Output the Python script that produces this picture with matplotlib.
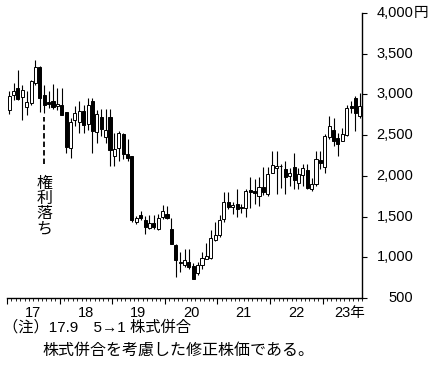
import matplotlib
matplotlib.use('Agg')
import matplotlib.pyplot as plt
import numpy as np

plt.rcParams['font.family'] = ['Liberation Sans', 'Noto Sans CJK JP']

# monthly candles, Jan 2017 - Sep 2023 (adjusted for the 17.9 5->1 consolidation)
opens = [2813, 2996, 3085, 2967, 2845, 2894, 3138, 3341, 2996, 2906, 2914, 2853,
         2874, 2780, 2337, 2683, 2662, 2792, 2638, 2914, 2540, 2719, 2479, 2719,
         2240, 2345, 2508, 2264, 2244, 1439, 1521, 1452, 1362, 1423, 1350, 1492,
         1533, 1342, 1147, 931, 902, 947, 893, 801, 911, 984, 996, 1215,
         1268, 1472, 1683, 1614, 1655, 1622, 1602, 1825, 1817, 1748, 1866, 1777,
         2041, 2094, 2118, 2082, 1999, 2109, 1918, 2008, 2073, 1837, 1898, 2195,
         2113, 2479, 2569, 2467, 2434, 2499, 2861, 2955, 2739]
highs = [3048, 3138, 3300, 3118, 3036, 3178, 3422, 3353, 3118, 3036, 3130, 3077,
         3077, 2780, 2711, 2853, 2914, 2874, 2955, 2955, 2813, 2825, 2825, 2825,
         2528, 2548, 2528, 2447, 2250, 1512, 1565, 1512, 1521, 1521, 1533, 1647,
         1634, 1484, 1159, 1065, 1106, 1106, 930, 943, 1065, 1175, 1340, 1430,
         1520, 1805, 1797, 1683, 1838, 1650, 1838, 1980, 1960, 1980, 2110, 2110,
         2305, 2305, 2150, 2183, 2101, 2284, 2101, 2142, 2142, 1979, 2304, 2304,
         2508, 2731, 2711, 2528, 2589, 2873, 2914, 2975, 3016]
lows = [2764, 2935, 2935, 2691, 2752, 2874, 3118, 2780, 2772, 2833, 2825, 2813,
        2752, 2284, 2223, 2609, 2528, 2528, 2569, 2284, 2406, 2487, 2406, 2122,
        2122, 2183, 2203, 2183, 1439, 1411, 1452, 1289, 1350, 1350, 1330, 1472,
        1472, 1159, 760, 821, 882, 862, 736, 781, 862, 984, 984, 1200,
        1250, 1431, 1594, 1533, 1492, 1540, 1492, 1602, 1650, 1634, 1760, 1756,
        2030, 1777, 1850, 1777, 1877, 1837, 1837, 1877, 1837, 1817, 1877, 2081,
        2040, 2447, 2365, 2243, 2426, 2487, 2772, 2548, 2711]
closes = [2983, 3044, 2943, 3056, 2902, 3166, 3341, 2955, 2874, 2886, 2841, 2882,
          2752, 2357, 2658, 2772, 2792, 2630, 2874, 2557, 2764, 2577, 2569, 2313,
          2333, 2528, 2264, 2215, 1460, 1484, 1480, 1370, 1423, 1370, 1484, 1573,
          1484, 1167, 964, 943, 968, 878, 736, 911, 988, 1012, 1240, 1268,
          1455, 1683, 1614, 1647, 1594, 1602, 1817, 1797, 1785, 1858, 1797, 2021,
          2130, 2122, 2126, 1980, 2032, 1951, 2020, 2101, 1857, 1898, 2203, 2154,
          2487, 2609, 2434, 2386, 2508, 2833, 2833, 2772, 2853]

years = ['17', '18', '19', '20', '21', '22', '23']
yticks = [500, 1000, 1500, 2000, 2500, 3000, 3500, 4000]
split_month = 8   # 2017年9月

o = np.array(opens)
h = np.array(highs)
l = np.array(lows)
c = np.array(closes)
x = np.arange(len(o))

fig = plt.figure(figsize=(4.32, 3.65), dpi=100)
ax = fig.add_axes([7/432, 67/365, 355/432, 285/365])

# wicks
ax.vlines(x, l, h, color='black', lw=0.8, zorder=1)
# bodies
up = c >= o
bottom = np.minimum(o, c)
height = np.maximum(np.abs(c - o), 4)
ax.bar(x, height, bottom=bottom, width=0.7,
       color=np.where(up, 'white', 'black'), edgecolor='black', lw=0.7, zorder=2)

# 権利落ち marker
ax.vlines(split_month, 2146, 2719, colors='black', lw=1.3,
          linestyles=(0, (3, 1.7)), zorder=3)
ax.text(split_month, 1625, '\n'.join('権利落ち'), ha='center', va='center',
        fontsize=11.5, linespacing=1.0)

ax.set_xlim(-0.5, -0.5 + 355/4.39)
ax.set_ylim(500, 4000)

for s in ['left', 'top']:
    ax.spines[s].set_visible(False)
ax.spines['right'].set_linewidth(1.0)
ax.spines['bottom'].set_linewidth(1.0)

# x: year boundaries and month ticks
ax.set_xticks(np.arange(-0.5, len(o), 12))
ax.set_xticks(np.arange(-0.5, len(o), 1), minor=True)
ax.tick_params(axis='x', which='major', length=4, width=0.8, direction='out', labelbottom=False)
ax.tick_params(axis='x', which='minor', length=1.8, width=0.6, direction='out')

for k, yr in enumerate(years):
    start = k * 12 - 0.5
    end = min(start + 12, ax.get_xlim()[1])
    xc = (start + end) / 2
    if yr == '23':
        ax.annotate(yr + '年', xy=(xc, 0), xycoords=('data', 'axes fraction'),
                    xytext=(5, -11), textcoords='offset points',
                    ha='center', va='center', fontsize=10.5)
    else:
        ax.annotate(yr, xy=(xc, 0), xycoords=('data', 'axes fraction'),
                    xytext=(0, -11), textcoords='offset points',
                    ha='center', va='center', fontsize=10.5)

# y: right side
ax.yaxis.tick_right()
ax.set_yticks(yticks)
ax.tick_params(axis='y', length=3.5, width=0.8, direction='out', labelright=False)
for v in yticks:
    ax.annotate(f'{v:,}', xy=(1, v), xycoords=('axes fraction', 'data'),
                xytext=(37, 0), textcoords='offset points',
                ha='right', va='center', fontsize=10.5)
ax.annotate('円', xy=(1, yticks[-1]), xycoords=('axes fraction', 'data'),
            xytext=(37, 0), textcoords='offset points',
            ha='left', va='center', fontsize=10.5)

fig.text(3/432, 1 - 327/365, '（注）17.9　5→1 株式併合', ha='left', va='center', fontsize=11)
fig.text(42/432, 1 - 350/365, '株式併合を考慮した修正株価である。', ha='left', va='center', fontsize=11.5)

fig.savefig('out.png', dpi=100)
